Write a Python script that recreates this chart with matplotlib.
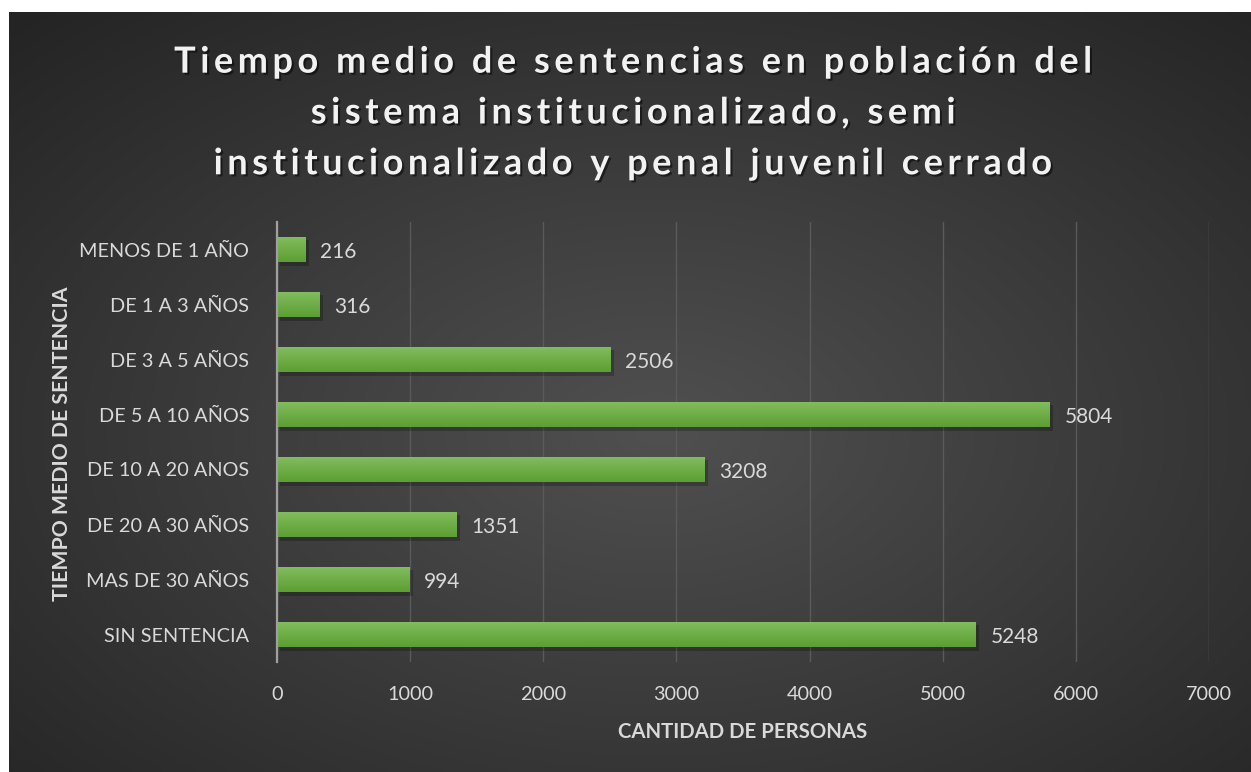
import numpy as np
import matplotlib
matplotlib.use("Agg")
import matplotlib.pyplot as plt
import matplotlib.patheffects as pe
from matplotlib.colors import LinearSegmentedColormap

categories = ["MENOS DE 1 AÑO", "DE 1 A 3 AÑOS", "DE 3 A 5 AÑOS", "DE 5 A 10 AÑOS",
              "DE 10 A 20 ANOS", "DE 20 A 30 AÑOS", "MAS DE 30 AÑOS", "SIN SENTENCIA"]
values = [216, 316, 2506, 5804, 3208, 1351, 994, 5248]
x_ticks = [0, 1000, 2000, 3000, 4000, 5000, 6000, 7000]
title_lines = ["Tiempo medio de sentencias en población del",
               "sistema institucionalizado, semi",
               "institucionalizado y penal juvenil cerrado"]
x_label = "CANTIDAD DE PERSONAS"
y_label = "TIEMPO MEDIO DE SENTENCIA"

W, H = 1251, 772
fig = plt.figure(figsize=(W / 100, H / 100), dpi=100)
fig.patch.set_facecolor("white")

# background panel with radial gradient
bg = fig.add_axes([9 / W, 0, 1 - 9 / W, (H - 12) / H])
bg.set_axis_off()
yy, xx = np.mgrid[0:200, 0:320]
cx, cy = 320 * 0.52, 200 * 0.55
d = np.sqrt(((xx - cx) / 320) ** 2 + ((yy - cy) / 200) ** 2) / 0.75
d = np.clip(d, 0, 1)
c_in = np.array([0x50, 0x50, 0x50]) / 255
c_out = np.array([0x24, 0x24, 0x24]) / 255
img = c_in[None, None, :] * (1 - d[..., None]) + c_out[None, None, :] * d[..., None]
bg.imshow(img, aspect="auto", extent=[0, 1, 0, 1], origin="upper", interpolation="bicubic")
bg.set_xlim(0, 1)
bg.set_ylim(0, 1)

fam = ["Lato", "DejaVu Sans"]
txt_col = "#d9d9d9"

ax = fig.add_axes([277 / W, 1 - 662 / H, (1209 - 277) / W, (662 - 222) / H])
ax.patch.set_alpha(0)
n = len(categories)
ypos = np.arange(n)
bars = ax.barh(ypos, values, height=0.47, color="#6aaa40", zorder=3,
               path_effects=[pe.SimplePatchShadow(offset=(2.5, -2.5), alpha=0.22, shadow_rgbFace="black"), pe.Normal()])
grad = LinearSegmentedColormap.from_list("g", ["#83bd5f", "#5c9f32"])
for i, b in enumerate(bars):
    x0, y0 = b.get_x(), b.get_y()
    w, h = b.get_width(), b.get_height()
    im = ax.imshow(np.linspace(0, 1, 50).reshape(-1, 1), cmap=grad, aspect="auto",
                   extent=[x0, x0 + w, y0 + h, y0], origin="upper", zorder=4)
    im.set_clip_path(b)
    ax.text(x0 + w + 110, y0 + h / 2 + 0.04, f"{values[i]}", va="center", ha="left",
            color=txt_col, fontsize=15, family=fam, zorder=5)

ax.set_xlim(0, 7000)
ax.set_ylim(n - 0.5, -0.5)
ax.set_xticks(x_ticks)
ax.set_xticklabels([str(t) for t in x_ticks])
ax.set_yticks(ypos)
ax.set_yticklabels(categories)
ax.tick_params(axis="both", length=0, colors=txt_col, labelsize=14.3)
ax.tick_params(axis="x", pad=17)
ax.tick_params(axis="y", pad=20)
for lab in ax.get_xticklabels() + ax.get_yticklabels():
    lab.set_family(fam)
ax.grid(axis="x", color="#5a5a5a", linewidth=1.0, zorder=0)
for s in ["top", "right", "bottom"]:
    ax.spines[s].set_visible(False)
ax.spines["left"].set_color("#a0a0a0")
ax.spines["left"].set_linewidth(1.6)
ax.spines["left"].set_zorder(6)

fig.text((277 + 1209) / 2 / W, 1 - 732 / H, x_label, ha="center", va="center",
         color=txt_col, fontsize=14.7, fontweight="bold", family=fam)
fig.text(62 / W, 1 - 444 / H, y_label, ha="center", va="center", rotation=90,
         color=txt_col, fontsize=15.3, fontweight="bold", family=fam)

# title: choose letter-spacing character so that line 1 spans ~918 px
renderer = fig.canvas.get_renderer()
target = 918
best = None
for sp in ["", "\u200a", "\u2009", "\u2006", "\u2005", "\u200a\u200a", "\u2009\u200a", "\u2006\u200a"]:
    t = fig.text(0.5, 0.5, sp.join(list(title_lines[0])), fontsize=26, fontweight="bold", family=fam)
    wpx = t.get_window_extent(renderer).width
    t.remove()
    if best is None or abs(wpx - target) < abs(best[1] - target):
        best = (sp, wpx)
sp = best[0]
title = "\n".join(sp.join(list(l)) for l in title_lines)
fig.text(633 / W, 1 - 113 / H, title, ha="center", va="center", multialignment="center",
         color="#f2f2f2", fontsize=26, fontweight="bold", family=fam, linespacing=1.66,
         path_effects=[pe.withSimplePatchShadow(offset=(1.5, -1.5), alpha=0.5, shadow_rgbFace="black")])

fig.savefig("out.png", dpi=100, facecolor=fig.get_facecolor())
